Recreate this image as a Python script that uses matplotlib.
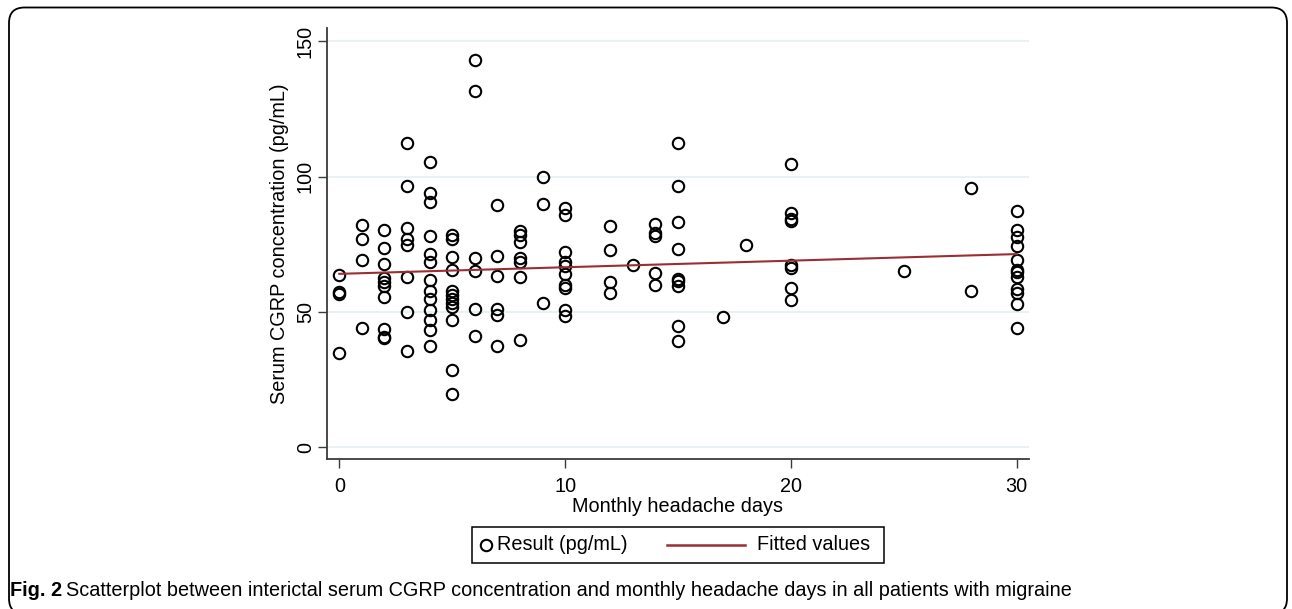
import matplotlib
matplotlib.use("Agg")
import matplotlib.pyplot as plt
from matplotlib.patches import FancyBboxPatch, Rectangle
from matplotlib.lines import Line2D
import numpy as np

# ---- data ----
days = ([0]*4 + [1]*4 + [2]*10 + [3]*8 + [4]*13 + [5]*12 + [6]*6 + [7]*6 + [8]*7 +
        [9]*3 + [10]*10 + [12]*4 + [13] + [14]*5 + [15]*9 + [17] + [18] + [20]*8 +
        [25] + [28]*2 + [30]*12)
cgrp = [63.8, 57.3, 56.8, 34.8,
        82.0, 76.8, 69.2, 44.0,
        80.4, 73.5, 67.9, 62.4, 61.1, 59.6, 55.4, 43.8, 40.9, 40.4,
        112.5, 96.5, 81.2, 77.0, 74.9, 63.0, 50.0, 35.6,
        105.4, 94.1, 90.6, 78.0, 71.5, 68.5, 61.7, 57.7, 54.8, 50.6, 47.1, 43.2, 37.3,
        78.6, 76.8, 70.5, 65.5, 57.8, 56.3, 54.8, 53.3, 51.9, 47.0, 28.6, 19.6,
        143.1, 131.7, 69.9, 65.3, 51.2, 41.1,
        89.4, 70.7, 63.2, 51.2, 49.0, 37.4,
        79.9, 78.4, 75.8, 69.9, 68.5, 62.8, 39.6,
        99.9, 89.8, 53.4,
        88.6, 85.8, 72.2, 68.5, 67.0, 64.0, 60.1, 58.7, 50.7, 48.5,
        81.9, 72.9, 61.1, 57.1,
        67.3,
        82.6, 79.0, 77.9, 64.5, 59.8,
        112.6, 96.5, 83.1, 73.3, 62.3, 61.5, 59.6, 44.8, 39.4,
        48.0,
        74.9,
        104.6, 86.6, 84.2, 83.5, 67.3, 66.1, 59.0, 54.4,
        65.2,
        95.9, 57.9,
        87.3, 80.3, 77.8, 74.4, 69.1, 65.6, 64.6, 63.0, 58.6, 57.0, 53.0, 44.0]
fit_x = [0, 30]
fit_y = [64.1, 71.4]

x_ticks = [0, 10, 20, 30]
y_ticks = [0, 50, 100, 150]
legend_labels = ['Result (pg/mL)', 'Fitted values']

W, H = 1292, 609
fig = plt.figure(figsize=(W/100, H/100), dpi=100)
plt.rcParams['font.family'] = ['Liberation Sans', 'DejaVu Sans']

def fx(px):
    return px / W

def fy(py):
    return 1 - py / H

FS = 14.3
fit_color = '#9b2d35'
mk = dict(marker='o', ms=8.2, mfc='none', mec='black', mew=1.5)

ax = fig.add_axes([fx(326.7), fy(459.3), fx(1029) - fx(326.7), fy(28) - fy(459.3)])
ax.set_xlim(-0.56, 30.55)
ax.set_ylim(-4.4, 154.9)

grid_c = '#e4eff2'
for yv in y_ticks:
    ax.axhline(yv, color=grid_c, lw=1.2, zorder=0)

ax.plot(days, cgrp, linestyle='none', zorder=3, **mk)
ax.plot(fit_x, fit_y, color=fit_color, lw=1.5, zorder=4)

for s in ['top', 'right']:
    ax.spines[s].set_visible(False)
for s in ['left', 'bottom']:
    ax.spines[s].set_color('#3a3a3a')
    ax.spines[s].set_linewidth(1.3)

ax.set_xticks(x_ticks)
ax.set_yticks(y_ticks)
ax.tick_params(axis='both', direction='out', length=6.5, width=1.0, color='#3a3a3a',
               labelsize=FS)
ax.tick_params(axis='x', pad=6)
ax.tick_params(axis='y', pad=2)
for lab in ax.get_yticklabels():
    lab.set_rotation(90)
    lab.set_va('center')

ax.set_xlabel('Monthly headache days', fontsize=FS, labelpad=1)
ax.set_ylabel('Serum CGRP concentration (pg/mL)', fontsize=FS, labelpad=5)

# legend box (drawn in figure coordinates)
leg_y = 545
fig.add_artist(Rectangle((fx(472), fy(563)), fx(884) - fx(472), fy(527) - fy(563),
                         transform=fig.transFigure, fill=False, ec='black', lw=1.1))
fig.add_artist(Line2D([fx(486)], [fy(leg_y)], transform=fig.transFigure,
                      linestyle='none', **mk))
fig.text(fx(497), fy(leg_y), legend_labels[0], fontsize=FS, ha='left', va='center')
fig.add_artist(Line2D([fx(667), fx(745)], [fy(leg_y), fy(leg_y)],
                      transform=fig.transFigure, color=fit_color, lw=1.8))
fig.text(fx(757), fy(leg_y), legend_labels[1], fontsize=FS, ha='left', va='center')

# rounded border of the figure panel
border = FancyBboxPatch((fx(9), fy(614)), fx(1287) - fx(9), fy(7.5) - fy(614),
                        boxstyle='round,pad=0,rounding_size=0.012',
                        transform=fig.transFigure, fill=False, ec='black', lw=1.3,
                        mutation_aspect=W / H)
fig.patches.append(border)

fig.text(fx(10), fy(590), 'Fig. 2', fontsize=14.3, fontweight='bold',
         ha='left', va='center')
fig.text(fx(66), fy(590),
         'Scatterplot between interictal serum CGRP concentration and monthly headache days in all patients with migraine',
         fontsize=14.3, ha='left', va='center')

fig.savefig('out.png', dpi=100)
